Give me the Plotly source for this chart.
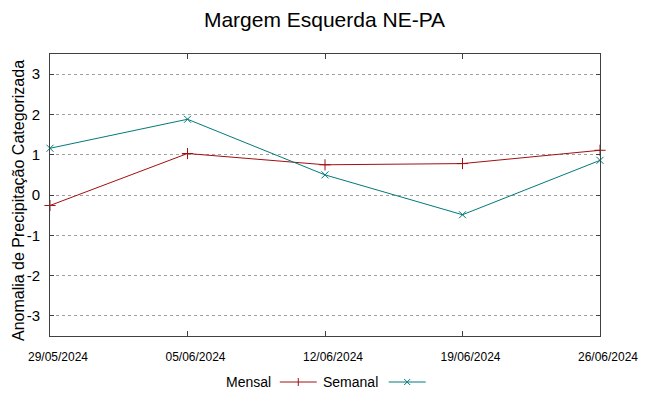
import plotly.graph_objects as go

dates = ["2024-05-29", "2024-06-05", "2024-06-12", "2024-06-19", "2024-06-26"]
tick_labels = ["29/05/2024", "05/06/2024", "12/06/2024", "19/06/2024", "26/06/2024"]
mensal = [-0.26, 1.03, 0.75, 0.78, 1.11]
semanal = [1.16, 1.88, 0.50, -0.49, 0.86]
y_ticks = [-3, -2, -1, 0, 1, 2, 3]
y_tick_labels = ["-3", "-2", "-1", "0", "1", "2", "3"]

RED = "#a01010"
TEAL = "#007a7a"
SANS = "Liberation Sans, Arial, sans-serif"

fig = go.Figure()
fig.add_trace(go.Scatter(x=dates, y=mensal, mode="lines+markers", name="Mensal",
                         line=dict(color=RED, width=1),
                         marker=dict(symbol="cross-thin", size=8, line=dict(color=RED, width=1)),
                         cliponaxis=False, showlegend=False))
fig.add_trace(go.Scatter(x=dates, y=semanal, mode="lines+markers", name="Semanal",
                         line=dict(color=TEAL, width=1),
                         marker=dict(symbol="x-thin", size=7, line=dict(color=TEAL, width=1)),
                         cliponaxis=False, showlegend=False))

fig.update_layout(
    width=649, height=396,
    margin=dict(l=50, r=48.5, t=54, b=60, autoexpand=False),
    paper_bgcolor="white", plot_bgcolor="white",
    title=dict(text="Margem Esquerda NE-PA", x=0.5, xanchor="center", y=1 - 20 / 396, yanchor="middle",
               font=dict(family=SANS, size=21, color="black")),
    font=dict(family=SANS, color="black"),
)
fig.update_xaxes(
    type="date", range=[dates[0], dates[-1]],
    tickvals=dates, ticktext=tick_labels, automargin=False,
    ticks="inside", ticklen=5, tickcolor="#404040", tickwidth=1,
    showline=True, linecolor="#404040", linewidth=1, mirror="ticks",
    showgrid=False, zeroline=False,
    tickfont=dict(family=SANS, size=12, color="black"),
    ticklabelstandoff=10, ticklabelshift=8,
)
fig.update_yaxes(
    range=[-3.5, 3.5], tickvals=y_ticks, ticktext=y_tick_labels, automargin=False,
    ticks="inside", ticklen=4, tickcolor="#404040", tickwidth=1,
    showline=True, linecolor="#404040", linewidth=1, mirror="ticks",
    showgrid=True, gridcolor="#a0a0a0", griddash="dot", gridwidth=1,
    zeroline=False,
    tickfont=dict(family=SANS, size=15, color="black"),
    ticklabelstandoff=6,
)

W, H, L, B = 550.5, 282, 50, 336
def px(x):
    return (x - L) / W
def py(y):
    return (B - y) / H

# y-axis title
fig.add_annotation(text="Anomalia de Precipitação Categorizada", xref="paper", yref="paper",
                   x=px(19), y=py(201), xanchor="center", yanchor="middle", textangle=-90,
                   showarrow=False, font=dict(family=SANS, size=16, color="black"))

# custom legend (text before sample, gnuplot style)
ly = 382
items = [("Mensal", 273, 280, 317, RED, "cross-thin"), ("Semanal", 380, 389, 426, TEAL, "x-thin")]
for name, tx, x0, x1, col, sym in items:
    fig.add_annotation(text=name, xref="paper", yref="paper", x=px(tx), y=py(ly),
                       xanchor="right", yanchor="middle", showarrow=False,
                       font=dict(family=SANS, size=14, color="black"))
    fig.add_shape(type="line", xref="paper", yref="paper", x0=px(x0), x1=px(x1),
                  y0=py(ly), y1=py(ly), line=dict(color=col, width=1))
    m = (x0 + x1) / 2
    if sym == "cross-thin":
        fig.add_shape(type="line", xref="paper", yref="paper", x0=px(m), x1=px(m),
                      y0=py(ly - 4), y1=py(ly + 4), line=dict(color=col, width=1))
    else:
        fig.add_shape(type="line", xref="paper", yref="paper", x0=px(m - 3), x1=px(m + 3),
                      y0=py(ly - 3), y1=py(ly + 3), line=dict(color=col, width=1))
        fig.add_shape(type="line", xref="paper", yref="paper", x0=px(m - 3), x1=px(m + 3),
                      y0=py(ly + 3), y1=py(ly - 3), line=dict(color=col, width=1))

fig.write_html("out.html", config={"displayModeBar": False},
               post_script="document.body.style.margin='0';document.body.style.overflow='hidden';")
